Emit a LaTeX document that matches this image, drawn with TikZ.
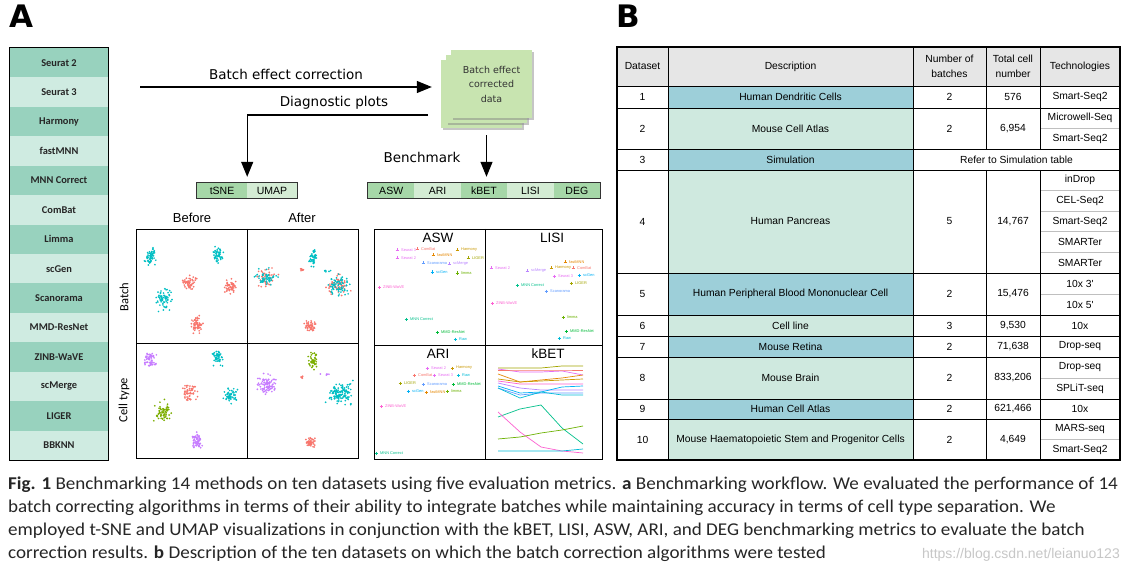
\documentclass[tikz,border=0pt]{standalone}
\usepackage{fontspec}
\setmainfont{Carlito}
\newfontfamily\capfont[FakeStretch=1.06]{Carlito}
\newfontfamily\verd{DejaVu Sans}
\newfontfamily\arial{Liberation Sans}
\usetikzlibrary{arrows.meta,shadows,positioning}

\definecolor{mdark}{HTML}{98D2BE}
\definecolor{mlight}{HTML}{CFEBE1}
\definecolor{bdark}{HTML}{A6D7A8}
\definecolor{blight}{HTML}{D4ECD4}
\definecolor{boxgreen}{HTML}{C8E4B0}
\definecolor{rowblue}{HTML}{9DCFD9}
\definecolor{rowgreen}{HTML}{CFE9DF}
\definecolor{headgrey}{HTML}{E6E6E6}
\definecolor{dsalmon}{HTML}{F8766D}
\definecolor{dteal}{HTML}{00BFC4}
\definecolor{dpurple}{HTML}{C77CFF}
\definecolor{dgreen}{HTML}{7CAE00}
\definecolor{cSeu}{HTML}{E76BF3}
\definecolor{cCom}{HTML}{F8766D}
\definecolor{cFast}{HTML}{E58700}
\definecolor{cHar}{HTML}{C99800}
\definecolor{cLig}{HTML}{A3A500}
\definecolor{cLim}{HTML}{6BB100}
\definecolor{cMmd}{HTML}{00BA38}
\definecolor{cMnn}{HTML}{00C08B}
\definecolor{cRaw}{HTML}{00BCD8}
\definecolor{cGen}{HTML}{00B0F6}
\definecolor{cScan}{HTML}{619CFF}
\definecolor{cMer}{HTML}{B983FF}
\definecolor{cZinb}{HTML}{FD61D1}

\tikzstyle{methodrow}=[
    minimum width=98pt,
    minimum height=29.43pt,
    inner sep=0,
    font=\fontsize{10.4}{12}\selectfont\bfseries,
    text=black!85
]
\tikzstyle{seg}=[
    minimum height=15pt,
    inner sep=0,
    font=\arial\fontsize{10.5}{12}\selectfont
]
\tikzstyle{databox}=[
    minimum width=81pt,
    minimum height=68pt,
    fill=boxgreen,
    drop shadow={opacity=0.45, shadow xshift=2pt, shadow yshift=-2pt}
]
\tikzstyle{flow}=[
    -{Triangle[length=15pt,width=12pt]},
    line width=1.2pt
]
\tikzstyle{lbl}=[
    inner sep=0,
    font=\verd\fontsize{13.5}{16}\selectfont
]
\tikzstyle{cell}=[
    inner sep=0,
    align=center,
    font=\arial\fontsize{10.3}{15}\selectfont
]
\tikzstyle{mlab}=[
    inner sep=0,
    anchor=west,
    font=\arial\fontsize{3.9}{4}\selectfont
]
\tikzstyle{ptitle}=[
    inner sep=0,
    font=\arial\fontsize{13.5}{15}\selectfont
]
\tikzstyle{caption}=[
    inner sep=0,
    anchor=base west,
    font=\capfont\fontsize{18}{20}\selectfont,
    text=black!85
]

\newcommand{\dotcloud}[6]{%
    \foreach \k in {1,...,#5}{%
        \pgfmathsetmacro\px{#1+#3*(rand+rand+rand)/2.5}%
        \pgfmathsetmacro\py{#2+#4*(rand+rand+rand)/2.5}%
        \fill[#6] (\px,\py) circle (0.95);
    }}

\begin{document}
\begin{tikzpicture}[x=1pt, y=-1pt]
\useasboundingbox (0,0) rectangle (1129,569);
\fill[white] (0,0) rectangle (1129,569);

\node[anchor=base west, inner sep=0, font=\verd\bfseries\fontsize{31}{31}\selectfont] (labA) at (9,28) {A};
\node[anchor=base west, inner sep=0, font=\verd\bfseries\fontsize{31}{31}\selectfont] (labB) at (616,28) {B};

% methods
\foreach \m/\col [count=\i] in {Seurat 2/mdark, Seurat 3/mlight, Harmony/mdark, fastMNN/mlight,
    MNN Correct/mdark, ComBat/mlight, Limma/mdark, scGen/mlight, Scanorama/mdark,
    MMD-ResNet/mlight, ZINB-WaVE/mdark, scMerge/mlight, LIGER/mdark, BBKNN/mlight}{
    \node[methodrow, fill=\col] (m\i) at (59,{48+29.43*(\i-0.5)}) {\m};
}
\draw[line width=0.8pt] (m1.north west) rectangle (m14.south east);

% corrected data stack
\node[databox] (stack1) at (481.5,94) {};
\node[databox] (stack2) at (486.5,89) {};
\node[databox, align=center, font=\verd\fontsize{9.5}{14.5}\selectfont, text=black!80] (data) at (491.5,84) {Batch effect\\corrected\\data};

\coordinate (bec) at (140,87);
\draw[flow, shorten >=9pt] (bec) -- (bec -| stack1.west);
\node[lbl] (becl) at (286,74) {Batch effect correction};

\foreach \t/\col [count=\i] in {tSNE/bdark, UMAP/blight}{
    \node[seg, minimum width=50pt, fill=\col] (pl\i) at ({197+50*(\i-0.5)},190.5) {\t};
}
\draw[black!80, line width=0.8pt] (pl1.north west) rectangle (pl2.south east);

\coordinate (diag) at (428,115);
\draw[flow, shorten >=6pt] (diag) -| (pl1.north east);
\node[lbl] (diagl) at (334,103) {Diagnostic plots};

\foreach \t/\col [count=\i] in {ASW/bdark, ARI/blight, kBET/bdark, LISI/blight, DEG/bdark}{
    \node[seg, minimum width=46.4pt, fill=\col] (met\i) at ({368+46.4*(\i-0.5)},190.5) {\t};
}
\draw[black!80, line width=0.8pt] (met1.north west) rectangle (met5.south east);
\draw[flow, shorten <=12pt, shorten >=6pt] (stack2.south) -- (stack2.south |- met3.north);
\node[lbl] (benchl) at (422,157) {Benchmark};

% scatter panels
\pgfmathsetseed{12}
\node[inner sep=0, font=\arial\fontsize{13}{15}\selectfont] (before) at (192,218) {Before};
\node[inner sep=0, font=\arial\fontsize{13}{15}\selectfont] (after) at (302,218) {After};
\node[inner sep=0, rotate=90, font=\fontsize{12.5}{15}\selectfont] (batchl) at (124,297) {Batch};
\node[inner sep=0, rotate=90, font=\fontsize{12.5}{15}\selectfont] (celll) at (124,400) {Cell type};

\foreach \cx/\cy/\sx/\sy/\n/\col in {150/257/7/10/55/dteal, 218/255/6/10/50/dteal,
    189/283/10/9/55/dsalmon, 230/287/8/9/55/dsalmon, 163/300/9/11/65/dteal, 197/325/7/9/60/dsalmon,
    265/278/12/10/45/dsalmon, 265/278/12/10/50/dteal, 313/257/5/10/45/dteal, 302/270/2/2/8/dsalmon,
    338/285/13/12/60/dsalmon, 338/285/13/12/70/dteal, 310/326/6/6/50/dsalmon, 326/271/7/1/6/dteal,
    150/360/7/10/55/dpurple, 218/358/6/10/50/dteal, 189/392/10/9/55/dsalmon, 230/395/8/9/55/dteal,
    163/412/9/11/65/dgreen, 197/440/7/9/60/dpurple, 267/385/12/11/90/dpurple, 313/360/5/10/45/dgreen,
    302/377/2/2/6/dsalmon, 340/393/13/12/125/dteal, 310/443/6/6/50/dsalmon, 326/374/7/1/5/dpurple}{
    \dotcloud{\cx}{\cy}{\sx}{\sy}{\n}{\col}
}
\draw[line width=0.8pt] (136,229) rectangle (358,458);
\draw[line width=0.8pt] (247,229) -- (247,458) (136,343) -- (358,343);

% metric panels
\node[ptitle] (aswt) at (438,238) {ASW};
\node[ptitle] (lisit) at (552,238) {LISI};
\node[ptitle] (arit) at (438,354) {ARI};
\node[ptitle] (kbett) at (548,354) {kBET};

\foreach \x/\y/\lab/\col [count=\k] in {401/250/Seurat 3/cSeu, 401/258/Seurat 2/cSeu, 421/249/ComBat/cCom,
    437/255/fastMNN/cFast, 461/250/Harmony/cHar, 472/258/LIGER/cLig, 427/263/Scanorama/cScan,
    453/264/scMerge/cMer, 436/272/scGen/cGen, 461/273/limma/cLim, 383/287/ZINB-WaVE/cZinb,
    410/319/MNN Correct/cMnn, 441/332/MMD-ResNet/cMmd, 459/339/Raw/cRaw,
    495/268/Seurat 2/cSeu, 531/271/scMerge/cMer, 569/262/fastMNN/cFast, 555/268/Harmony/cHar,
    577/268/ComBat/cCom, 558/276/Seurat 3/cSeu, 583/275/scGen/cGen, 575/283/LIGER/cLig,
    550/291/Scanorama/cScan, 521/285/MNN Correct/cMnn, 496/303/ZINB-WaVE/cZinb, 567/317/limma/cLim,
    570/331/MMD-ResNet/cMmd, 563/338/Raw/cRaw,
    431/368/Seurat 2/cSeu, 456/368/Harmony/cHar, 418/375/ComBat/cCom, 438/375/Seurat 3/cSeu,
    462/375/Raw/cRaw, 404/383/LIGER/cLig, 427/384/Scanorama/cScan, 457/384/MMD-ResNet/cMmd,
    412/391/scGen/cGen, 430/392/fastMNN/cFast, 451/391/limma/cLim, 385/406/ZINB-WaVE/cZinb,
    380/453/MNN Correct/cMnn}{
    \node[mlab, text=\col] (pt\k) at (\x,\y) {\lab};
    \draw[\col, line width=0.6pt] (\x-4,\y) ++(-1.5,0) -- ++(3,0) ++(-1.5,-1.5) -- ++(0,3);
}

\foreach \col/\a/\b/\c/\d/\e in {cLig/368/368/368/366/366, cSeu/369/372/372/371/375,
    cCom/370/370/370/370/370, cFast/374/382/380/378/375, cHar/379/382/381/380/379,
    cZinb/381/384/384/384/384, cMer/383/388/390/390/390, cGen/386/393/392/387/386,
    cScan/388/395/393/393/393, cRaw/388/398/392/395/395, cMnn/417/409/405/428/444,
    cZinb/412/432/447/451/453, cLim/439/437/433/430/426, cRaw/451/451/451/451/449}{
    \draw[\col, line width=0.7pt] (498,\a) -- (520,\b) -- (541,\c) -- (562,\d) -- (583,\e);
}
\draw[line width=0.8pt] (374,229) rectangle (602,459);
\draw[line width=0.8pt] (485,229) -- (485,459) (374,345) -- (602,345);

% table
\fill[headgrey] (617,47) rectangle (1120,86);
\node[cell] (hd1) at (642.5,66.5) {Dataset};
\node[cell] (hd2) at (790.5,66.5) {Description};
\node[cell] (hd3) at (949.5,66.5) {Number of\\batches};
\node[cell] (hd4) at (1013,66.5) {Total cell\\number};
\node[cell] (hd5) at (1080,66.5) {Technologies};

\foreach \id/\ya/\yb/\desc/\col in {1/86/108/Human Dendritic Cells/rowblue, 2/108/149/Mouse Cell Atlas/rowgreen,
    3/149/170/Simulation/rowblue, 4/170/273/Human Pancreas/rowgreen,
    5/273/315/Human Peripheral Blood Mononuclear Cell/rowblue, 6/315/336/Cell line/rowgreen,
    7/336/357/Mouse Retina/rowblue, 8/357/399/Mouse Brain/rowgreen, 9/399/419/Human Cell Atlas/rowblue,
    10/419/460/Mouse Haematopoietic Stem and Progenitor Cells/rowgreen}{
    \fill[\col] (668,\ya) rectangle (913,\yb);
    \node[cell] (id\id) at (642.5,{(\ya+\yb)/2}) {\id};
    \node[cell] (desc\id) at (790.5,{(\ya+\yb)/2}) {\desc};
}
\foreach \id/\ya/\yb/\nb/\nc in {1/86/108/2/576, 2/108/149/2/{6,954}, 4/170/273/5/{14,767},
    5/273/315/2/{15,476}, 6/315/336/3/{9,530}, 7/336/357/2/{71,638}, 8/357/399/2/{833,206},
    9/399/419/2/{621,466}, 10/419/460/2/{4,649}}{
    \node[cell] (nb\id) at (949.5,{(\ya+\yb)/2}) {\nb};
    \node[cell] (nc\id) at (1013,{(\ya+\yb)/2}) {\nc};
}
\node[cell] (ref3) at (1016.5,159.5) {Refer to Simulation table};

\foreach \ya/\yb/\t [count=\k] in {86/108/Smart-Seq2, 108/128.5/Microwell-Seq, 128.5/149/Smart-Seq2,
    170/190.6/inDrop, 190.6/211.2/CEL-Seq2, 211.2/231.8/Smart-Seq2, 231.8/252.4/SMARTer,
    252.4/273/SMARTer, 273/294/10x 3', 294/315/10x 5', 315/336/10x, 336/357/Drop-seq,
    357/378/Drop-seq, 378/399/SPLiT-seq, 399/419/10x, 419/439.5/MARS-seq, 439.5/460/Smart-Seq2}{
    \node[cell] (tech\k) at (1080,{(\ya+\yb)/2}) {\t};
    \draw[black!25, line width=0.6pt] (1040,\yb) -- (1120,\yb);
}
\foreach \y in {86,108,149,170,273,315,336,357,399,419}{
    \draw[line width=0.8pt] (617,\y) -- (1120,\y);
}
\draw[line width=0.8pt] (668,47) -- (668,460) (913,47) -- (913,460)
    (986,47) -- (986,149) (986,170) -- (986,460) (1040,47) -- (1040,149) (1040,170) -- (1040,460);
\draw[line width=2pt] (617,47) rectangle (1120,460);

% caption
\node[caption] (cap1) at (8,489) {\textbf{Fig. 1} Benchmarking 14 methods on ten datasets using five evaluation metrics. \textbf{a} Benchmarking workflow. We evaluated the performance of 14};
\node[caption] (cap2) at (8,512) {batch correcting algorithms in terms of their ability to integrate batches while maintaining accuracy in terms of cell type separation. We};
\node[caption] (cap3) at (8,535) {employed t-SNE and UMAP visualizations in conjunction with the kBET, LISI, ASW, ARI, and DEG benchmarking metrics to evaluate the batch};
\node[caption] (cap4) at (8,558) {correction results. \textbf{b} Description of the ten datasets on which the batch correction algorithms were tested};
\node[inner sep=0, anchor=base east, text=black!22, font=\arial\fontsize{14}{16}\selectfont] (wm) at (1120,558) {https://blog.csdn.net/leianuo123};
\end{tikzpicture}
\end{document}
